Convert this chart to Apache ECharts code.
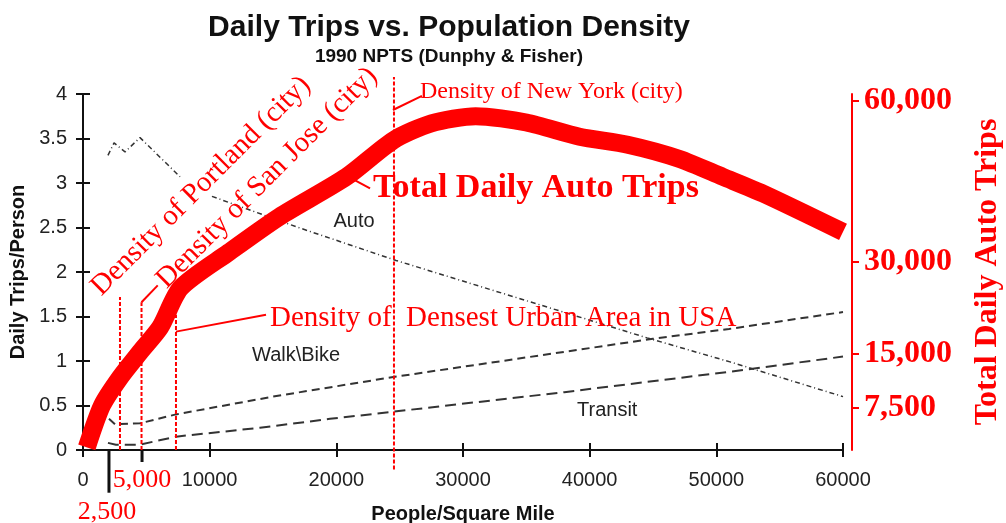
<!DOCTYPE html>
<html>
<head>
<meta charset="utf-8">
<script src="https://cdn.jsdelivr.net/npm/echarts@6/dist/echarts.min.js"></script>
<style>
  html, body { margin: 0; padding: 0; background: #fff; }
  #chart { width: 1006px; height: 523px; }
</style>
</head>
<body>
<div id="chart"></div>
<script>
// x = people / square mile, y = daily trips / person
var autoTrips = [[1970, 3.31], [2450, 3.45], [3320, 3.35], [4500, 3.51], [7660, 3.07], [8900, '-'],
  [10180, 2.85], [17000, 2.5], [24710, 2.13], [34500, 1.7], [44530, 1.26], [51080, 0.99], [60000, 0.6]];
var walkBikeTrips = [[2050, 0.35], [2530, 0.29], [4500, 0.3], [7340, 0.4], [15000, 0.6], [24500, 0.82],
  [35000, 1.04], [45000, 1.25], [51000, 1.36], [60000, 1.55]];
var transitTrips = [[1970, 0.08], [2600, 0.06], [4500, 0.06], [7340, 0.15], [13970, 0.25], [19500, 0.35],
  [24470, 0.43], [38000, 0.65], [51080, 0.88], [60000, 1.05]];
// total daily auto trips, drawn against the red right-hand scale
var totalAutoTrips = [[300, 0.03], [1500, 0.5], [2900, 0.81], [4500, 1.1], [6100, 1.38], [7700, 1.82],
  [11500, 2.22], [15500, 2.62], [20800, 3.07], [24500, 3.48], [27500, 3.67], [31000, 3.75], [35000, 3.68],
  [39200, 3.52], [43000, 3.43], [47100, 3.27], [50500, 3.07], [53700, 2.88], [60000, 2.45]];

// red scale: where each label sits and what it says
var rightTickPos = [0.48, 1.08, 2.11, 3.92];
var rightTickLabels = ['7,500', '15,000', '30,000', '60,000'];

// densities marked: Portland, San Jose, densest urban area, New York
var densityMarks = [2920, 4620, 7340, 24550];
var extraTicks = [2050, 4660]; // the "2,500" and "5,000" ticks

var RED = '#ff0000';
var INK = '#222';
var SERIF = '"Liberation Serif", "DejaVu Serif", serif';
var SANS = '"Liberation Sans", Arial, sans-serif';

// annotation segments: [x1, y1, x2, y2, kind]  kind 0 = red dashed, 1 = red solid, 2 = black tick
var segments = [
  [densityMarks[0], 0, densityMarks[0], 1.72, 0],
  [densityMarks[1], 0, densityMarks[1], 1.66, 0],
  [densityMarks[1], 1.66, 5900, 1.85, 1],
  [densityMarks[2], 0, densityMarks[2], 1.52, 0],
  [densityMarks[2], 1.33, 14450, 1.52, 1],
  [densityMarks[3], -0.22, densityMarks[3], 4.19, 0],
  [24470, 3.82, 26760, 3.98, 1],
  [21080, 3.06, 22660, 2.94, 1],
  [extraTicks[0], 0, extraTicks[0], -0.48, 2],
  [extraTicks[1], 0, extraTicks[1], -0.135, 2]
];

var myChart = echarts.init(document.getElementById('chart'));

function txt(text, x, y, size, color, family, weight, align, rot) {
  return {
    type: 'text', x: x, y: y, rotation: rot || 0, z: 100,
    style: {
      text: text, fill: color, fontSize: size, fontFamily: family,
      fontWeight: weight || 'normal', align: align || 'left', verticalAlign: 'middle'
    }
  };
}

var option = {
  animation: false,
  backgroundColor: '#fff',
  title: [
    { text: 'Daily Trips vs. Population Density', left: 444, top: 8, textAlign: 'center',
      textStyle: { fontFamily: SANS, fontSize: 30, fontWeight: 'bold', color: '#111' } },
    { text: '1990 NPTS (Dunphy & Fisher)', left: 444, top: 42, textAlign: 'center',
      textStyle: { fontFamily: SANS, fontSize: 19, fontWeight: 'bold', color: '#111' } }
  ],
  grid: { left: 83, right: 163, top: 94, bottom: 73, containLabel: false, outerBoundsMode: 'none' },
  xAxis: [
    {
      type: 'value', min: 0, max: 60000, interval: 10000,
      name: 'People/Square Mile', nameLocation: 'middle', nameGap: 54,
      nameTextStyle: { fontFamily: SANS, fontSize: 20, fontWeight: 'bold', color: '#111' },
      axisLine: { onZero: false, lineStyle: { color: '#111', width: 2 } },
      axisTick: { length: 7, lineStyle: { color: '#111', width: 2 } },
      axisLabel: { margin: 20, fontFamily: SANS, fontSize: 20, color: INK, formatter: function (v) { return String(v); } },
      splitLine: { show: false }
    },
    {
      type: 'value', min: 0, max: 60000, interval: 10000, position: 'bottom',
      axisLine: { show: false, onZero: false },
      axisTick: { inside: true, length: 7, lineStyle: { color: '#111', width: 2 } },
      axisLabel: { show: false }, splitLine: { show: false }
    }
  ],
  yAxis: [
    {
      type: 'value', min: 0, max: 4, interval: 0.5, position: 'left',
      name: 'Daily Trips/Person', nameLocation: 'middle', nameGap: 54,
      nameTextStyle: { fontFamily: SANS, fontSize: 20, fontWeight: 'bold', color: '#111' },
      axisLine: { show: true, onZero: false, lineStyle: { color: '#111', width: 2 } },
      axisTick: { show: true, length: 7, lineStyle: { color: '#111', width: 2 } },
      axisLabel: { margin: 16, fontFamily: SANS, fontSize: 20, color: INK },
      splitLine: { show: false }
    },
    {
      type: 'value', min: 0, max: 4, interval: 0.5, position: 'left',
      axisLine: { show: false, onZero: false },
      axisTick: { show: true, inside: true, length: 7, lineStyle: { color: '#111', width: 2 } },
      axisLabel: { show: false }, splitLine: { show: false }
    },
    {
      type: 'value', min: 0, max: 4, position: 'right', offset: 9,
      name: 'Total Daily Auto Trips', nameLocation: 'middle', nameGap: 120, nameRotate: 90,
      nameTextStyle: { fontFamily: SERIF, fontSize: 32, fontWeight: 'bold', color: RED },
      axisLine: { show: true, onZero: false, lineStyle: { color: RED, width: 2 } },
      axisTick: { show: true, length: 7, customValues: rightTickPos, lineStyle: { color: RED, width: 2 } },
      axisLabel: {
        margin: 12, customValues: rightTickPos, fontFamily: SERIF, fontSize: 32, fontWeight: 'bold', color: RED,
        formatter: function (v) {
          var i = rightTickPos.indexOf(v);
          return i >= 0 ? rightTickLabels[i] : '';
        }
      },
      splitLine: { show: false }
    }
  ],
  series: [
    {
      name: 'Auto', type: 'line', data: autoTrips, symbol: 'none', connectNulls: false,
      lineStyle: { color: '#333', width: 1.5, type: [5, 3, 1, 3] }, z: 2
    },
    {
      name: 'Walk\\Bike', type: 'line', data: walkBikeTrips, symbol: 'none',
      lineStyle: { color: '#333', width: 2, type: [8, 5] }, z: 2
    },
    {
      name: 'Transit', type: 'line', data: transitTrips, symbol: 'none',
      lineStyle: { color: '#333', width: 2, type: [11, 6] }, z: 2
    },
    {
      name: 'annotations', type: 'custom', clip: false, silent: true, z: 3,
      data: segments,
      renderItem: function (params, api) {
        var p1 = api.coord([api.value(0), api.value(1)]);
        var p2 = api.coord([api.value(2), api.value(3)]);
        var kind = api.value(4);
        return {
          type: 'line',
          shape: { x1: p1[0], y1: p1[1], x2: p2[0], y2: p2[1] },
          style: {
            stroke: kind === 2 ? '#111' : RED,
            lineWidth: kind === 2 ? 3 : 2,
            lineDash: kind === 0 ? [4, 2] : null
          }
        };
      }
    },
    {
      name: 'Total Daily Auto Trips', type: 'line', yAxisIndex: 2, data: totalAutoTrips,
      symbol: 'none', smooth: 0.25,
      lineStyle: { color: RED, width: 18, cap: 'butt' }, z: 4
    }
  ],
  graphic: [
    txt('Density of Portland (city)', 201, 186, 29, RED, SERIF, 'normal', 'center', Math.PI / 4),
    txt('Density of San Jose (city)', 267, 178, 29, RED, SERIF, 'normal', 'center', Math.PI / 4),
    txt('Density of New York (city)', 420, 92, 24, RED, SERIF),
    txt('Total Daily Auto Trips', 373, 188, 34, RED, SERIF, 'bold'),
    txt('Density of  Densest Urban Area in USA', 270, 318, 29, RED, SERIF),
    txt('5,000', 142, 480, 26, RED, SERIF, 'normal', 'center'),
    txt('2,500', 107, 512, 26, RED, SERIF, 'normal', 'center'),
    txt('Auto', 354, 221, 20, INK, SANS, 'normal', 'center'),
    txt('Walk\\Bike', 252, 355, 20, INK, SANS),
    txt('Transit', 577, 410, 20, INK, SANS)
  ]
};
myChart.setOption(option);
</script>
</body>
</html>
